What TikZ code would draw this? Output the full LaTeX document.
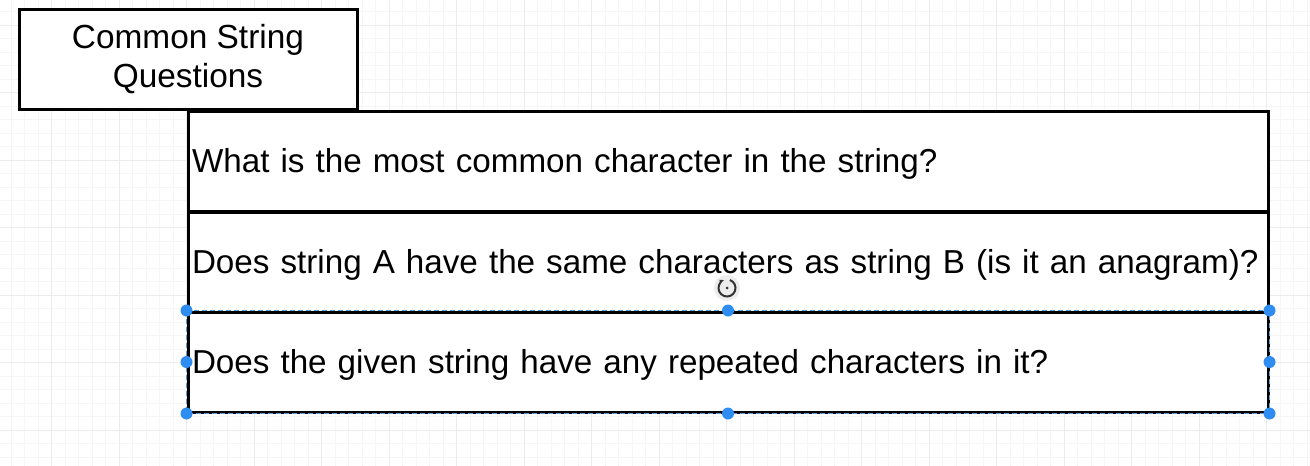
\documentclass[tikz,border=0pt]{standalone}
\usepackage{fontspec}
\setmainfont{Liberation Sans}
\usetikzlibrary{arrows.meta}
\hyphenpenalty=10000
\definecolor{gridminor}{HTML}{F6F6F6}
\definecolor{gridmajor}{HTML}{ECECEC}
\definecolor{selblue}{HTML}{2F8CF0}
\definecolor{seldash}{HTML}{5A9BD5}
\tikzset{
    qbox/.style={draw, line width=3pt, fill=white, minimum width=1080pt, minimum height=100pt,
        text width=1072pt, align=left, inner xsep=4pt, inner ysep=0pt,
        text height=22pt, text depth=0pt,
        font=\fontsize{33.2}{38}\selectfont},
    titlebox/.style={draw, line width=3pt, fill=white, minimum width=338pt, minimum height=100pt,
        align=center, font=\fontsize{33.4}{38.5}\selectfont},
    handle/.style={fill=selblue},
    seldashes/.style={draw=seldash, line width=1.3pt, dash pattern=on 5pt off 3pt}
}
\begin{document}
\begin{tikzpicture}[x=1pt, y=-1pt]
    \useasboundingbox (0,0) rectangle (1310,466);
    % grid
    \foreach \gx in {11,24.5,...,1310} \draw[gridminor, line width=0.8pt] (\gx,0) -- (\gx,466);
    \foreach \gy in {11.5,25,...,466} \draw[gridminor, line width=0.8pt] (0,\gy) -- (1310,\gy);
    \foreach \gx in {51.5,119,...,1310} \draw[gridmajor, line width=1pt] (\gx,0) -- (\gx,466);
    \foreach \gy in {25,92.5,...,466} \draw[gridmajor, line width=1pt] (0,\gy) -- (1310,\gy);

    \node[qbox] (r1) at (728,161) {What is the most common character in the string?};
    \node[qbox] (r2) at (728,262) {Does string A have the same characters as string B (is it an anagram)?};
    \node[qbox] (r3) at (728,362) {Does the given string have any repeated characters in it?};
    \node[titlebox] (title) at (188,59) {Common String\\Questions};

    % selection of the last row
    \draw[seldashes] (r3.north west) rectangle (r3.south east);
    \foreach \a in {north west,north,north east,west,east,south west,south,south east}
        \fill[handle] (r3.\a) circle (6pt);

    % rotate cursor
    \fill[black!7] (727,288) circle (13pt);
    \draw[black!80, line width=2pt, -{Stealth[length=5pt]}] (727,288) ++(70:8.5pt) arc (70:-250:8.5pt);
    \fill[black!80] (727,288) circle (1.5pt);
\end{tikzpicture}
\end{document}
